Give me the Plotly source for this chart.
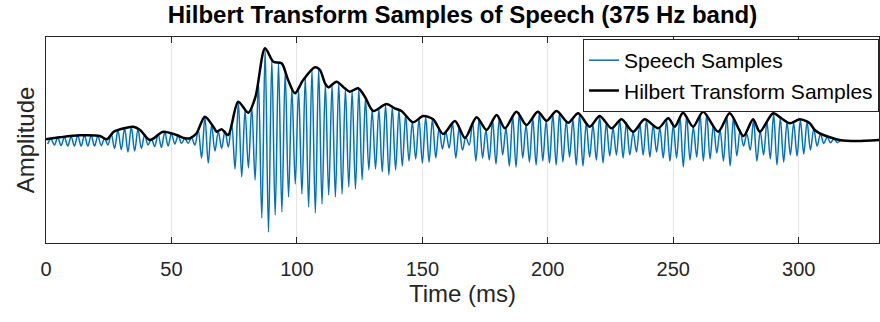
import plotly.graph_objects as go

# ---- data ----
# Speech samples (375 Hz band): alternating trough / peak extremes, one pair per cycle
speech_troughs = [-2, -3, -3.5, -4, -4, -4, -4, -4, -3.5, -3,
                  -6.5, -7.5, -10, -9, -6.5, -3, -4.5, -5.5, -4, -2,
                  -1.3, -1.3, -3, -16, -21, -9, -6.3, -5, -27, -35,
                  -26, -38, -76, -90, -73, -70, -55, -42, -52, -65,
                  -71, -62, -53, -55, -52, -45, -47, -38, -28, -27,
                  -30, -33, -28, -24, -19, -17, -21, -20, -16, -7,
                  -6, -16, -8, -3, -19, -16, -18, -22, -13, -24,
                  -25, -16, -20, -23, -19, -21, -23, -20, -15, -23,
                  -24, -15, -18, -21, -14, -13, -16, -13, -10, -13,
                  -15, -10, -16, -19, -16, -25, -18, -15, -19, -17,
                  -11, -19, -24, -14, -4, -8, -19, -13, -17, -23,
                  -20, -13, -14, -12, -8, -4, -1.5, -0.8, -0.4]
speech_peaks = [3, 4.5, 5, 5.5, 6.5, 6.5, 6.5, 6, 3.5, 8,
                12, 14, 15, 13, 7, 3, 8, 10, 8.5, 6.5,
                3.5, 4.5, 12, 25, 17, 10.5, 11, 18, 40, 32,
                35, 60, 93, 82, 79, 70, 53, 53, 65, 72,
                73, 58, 57, 59, 53, 51, 53, 44, 32, 33,
                37, 35, 32, 27, 20, 23, 25, 23, 14, 10,
                19, 14, 5, 20, 23, 12, 22, 24, 14, 26,
                29, 17, 24, 30, 21, 28, 29, 21, 23, 28,
                19, 17, 26, 19, 14, 22, 19, 10, 18, 22,
                17, 14, 22, 17, 25, 26, 15, 27, 28, 17,
                12, 26, 25, 12, 8, 22, 11, 20, 28, 24,
                20, 19, 22, 20, 13, 8, 5, 3, 1.5]
speech_start_ms = 0.67
speech_half_period_ms = 4.0 / 3.0   # half a cycle of the 375 Hz band

# Hilbert transform (envelope) samples
env_time = [0, 5.6, 13.5, 21.5, 24.2, 27, 29.5, 34.8, 37.5, 41.4,
            46.7, 52, 55.4, 57.4, 60, 63.3, 66.7, 68, 70, 72.6,
            76.6, 80.6, 83.5, 87.3, 90.6, 93.9, 96.5, 99.2, 102.5, 107.2,
            109.2, 111.2, 112.5, 115.8, 119.1, 121.1, 124.4, 127.1, 130.4, 135.7,
            139, 141.7, 146.3, 150.3, 154.3, 158.3, 163, 167, 171.6, 175.6,
            179.6, 182.9, 187.5, 191.5, 196, 199.5, 203.5, 208.1, 212.1, 216.7,
            220.7, 225.4, 229.4, 234, 238.6, 244, 248, 250.6, 253.9, 257.9,
            261.9, 267.9, 272.5, 278, 281.8, 284.5, 289.8, 293.1, 296.4, 300.5,
            304.4, 306.4, 308.4, 312.4, 316.3, 323, 332]
env_amp = [2.7, 4.7, 6.7, 6, 2.7, 10.3, 12.7, 15.3, 12, 2,
           10.3, 7, 3.7, 3.7, 8.7, 25.3, 15.3, 10.3, 12.7, 7,
           40.3, 29.3, 45.3, 93.7, 80.3, 78.7, 62, 48.7, 62, 74.7,
           72, 58.7, 54.7, 60.3, 53.7, 50.3, 53.7, 45.3, 31, 38,
           33.7, 31, 19.7, 26, 22.7, 8, 21, 4, 24.7, 12,
           27, 13.7, 30.3, 17, 30.3, 21.3, 31, 19.3, 28.7, 15.3,
           26, 13.7, 22.7, 10.3, 22.7, 13.7, 23.7, 15.3, 29.3, 15.3,
           30.3, 10.3, 28.7, 6, 22.7, 10.3, 28.7, 23.7, 18.7, 22.7,
           18.7, 12, 8.7, 4.7, 2, 1, 2]

x_ticks = [0, 50, 100, 150, 200, 250, 300]

# ---- build the speech sample sequence (trough, peak, trough, peak, ...) ----
speech_vals = []
for lo, hi in zip(speech_troughs, speech_peaks):
    speech_vals.append(lo)
    speech_vals.append(hi)
speech_time = [speech_start_ms + i * speech_half_period_ms for i in range(len(speech_vals))]

font_family = "Liberation Sans, Arial, Helvetica, sans-serif"

fig = go.Figure()
fig.add_trace(go.Scatter(
    x=speech_time, y=speech_vals, mode="lines", name="Speech Samples",
    line=dict(color="#0072BD", width=1.5, shape="spline", smoothing=1.0),
))
fig.add_trace(go.Scatter(
    x=env_time, y=env_amp, mode="lines", name="Hilbert Transform Samples",
    line=dict(color="#000000", width=2.5, shape="spline", smoothing=0.8),
))

fig.update_layout(
    width=880, height=322,
    margin=dict(l=46, r=1, t=37, b=79),
    paper_bgcolor="white", plot_bgcolor="white",
    font=dict(family=font_family, color="#262626"),
    title=dict(
        text="<b>Hilbert Transform Samples of Speech (375 Hz band)</b>",
        x=(46 + 879) / 2 / 880, xanchor="center",
        y=1 - 15 / 322, yanchor="middle",
        font=dict(size=24, color="#000000", family=font_family),
    ),
    showlegend=True,
    legend=dict(
        x=1.0, xanchor="right", y=0.99, yanchor="top",
        bgcolor="white", bordercolor="#262626", borderwidth=1,
        font=dict(size=21, color="#000000", family=font_family),
        traceorder="normal",
    ),
)

fig.update_xaxes(
    range=[0, 332], tickvals=x_ticks, ticktext=[str(v) for v in x_ticks],
    ticks="inside", ticklen=6, tickcolor="#262626",
    showline=True, linecolor="#262626", linewidth=1, mirror="ticks",
    showgrid=True, gridcolor="#e6e6e6", gridwidth=1,
    zeroline=False,
    tickfont=dict(size=20, color="#262626"),
    ticklabelstandoff=8,
    title=dict(text="Time (ms)", font=dict(size=24, color="#262626"), standoff=4),
)
fig.update_yaxes(
    range=[-101, 105], showticklabels=False, ticks="",
    showline=True, linecolor="#262626", linewidth=1, mirror=True,
    showgrid=False, zeroline=False,
    title=dict(text="Amplitude", font=dict(size=24, color="#262626"), standoff=3),
)

fig.write_html("out.html")
